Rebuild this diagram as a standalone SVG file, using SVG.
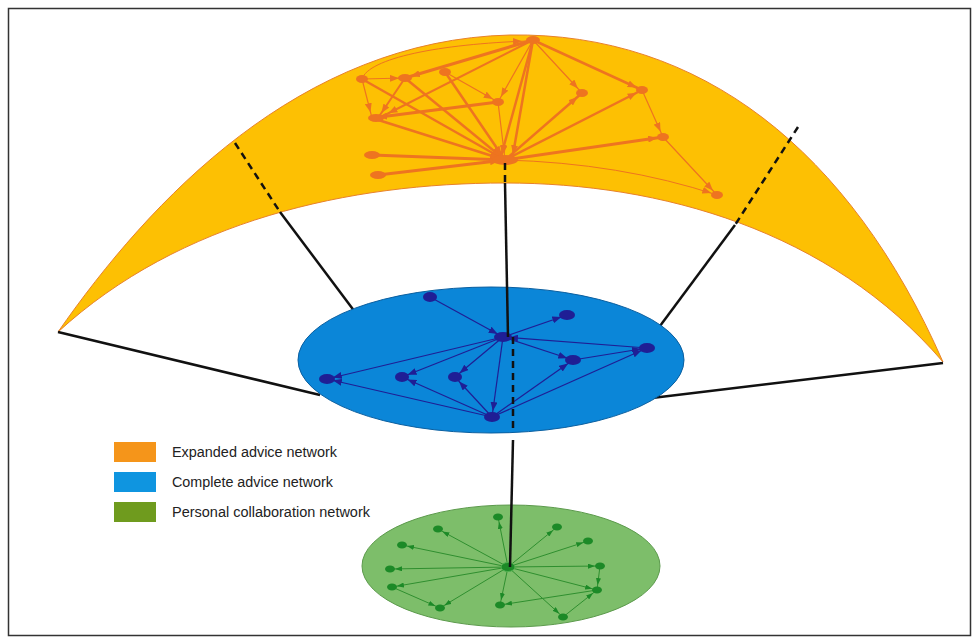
<svg xmlns="http://www.w3.org/2000/svg" width="977" height="642" viewBox="0 0 977 642">
<defs>
<style>
.oe{stroke:#EE7420;fill:none;stroke-linecap:round}
.be{stroke:#1F1E95;fill:none;stroke-width:1.2}
.ge{stroke:#2F8F2F;fill:none;stroke-width:1}
.on{fill:#EE7420}
.bn{fill:#1F1E95}
.gn{fill:#1C8A27}
.blk{stroke:#111;stroke-width:2.5;fill:none}
.dash{stroke:#111;stroke-width:2.5;fill:none;stroke-dasharray:7,5}
.lg{font-family:"Liberation Sans","DejaVu Sans",sans-serif;font-size:14px;fill:#222}
</style>
<marker id="ao" markerUnits="userSpaceOnUse" markerWidth="9" markerHeight="7" refX="15" refY="3.5" orient="auto"><path d="M0,0 L9,3.5 L0,7 z" fill="#EE7420"/></marker>
<marker id="ab" markerUnits="userSpaceOnUse" markerWidth="9" markerHeight="7" refX="15" refY="3.5" orient="auto"><path d="M0,0 L9,3.5 L0,7 z" fill="#1F1E95"/></marker>
<marker id="ag" markerUnits="userSpaceOnUse" markerWidth="7" markerHeight="5" refX="12" refY="2.5" orient="auto"><path d="M0,0 L7,2.5 L0,5 z" fill="#1C8A27"/></marker>
</defs>
<rect x="0" y="0" width="977" height="642" fill="#fff"/>
<rect x="8.5" y="8.5" width="962" height="627" fill="none" stroke="#333" stroke-width="1.5"/>

<g id="expanded-band">
<path d="M58,332 C150,200 300,40 510,35 C700,32 850,150 943,362 C830,230 660,183 505,183 C350,183 180,220 58,332 Z" fill="#FDC003" stroke="#E8812A" stroke-width="1"/>
</g>

<g id="connectors">
<path class="dash" d="M235,143 L280,212"/>
<path class="dash" d="M798,127 L735,225"/>
<path class="blk" d="M280,212 L355,312"/>
<path class="blk" d="M735,225 L660,326"/>
<path class="blk" d="M58,332 L320,395"/>
<path class="blk" d="M943,363 L652,398"/>
</g>

<g id="expanded-network">
<path class="oe" stroke-width="1" d="M362,79 C368,58 440,44 528,41" marker-end="url(#ao)"/>
<path class="oe" stroke-width="1.2" d="M362,79 L405,78" marker-end="url(#ao)"/>
<path class="oe" stroke-width="3" d="M533,40 L405,78" marker-end="url(#ao)"/>
<path class="oe" stroke-width="2" d="M533,40 L383,116" marker-end="url(#ao)"/>
<path class="oe" stroke-width="1.2" d="M362,79 L372,118" marker-end="url(#ao)"/>
<path class="oe" stroke-width="2.5" d="M362,79 L505,160" marker-end="url(#ao)"/>
<path class="oe" stroke-width="2.5" d="M405,78 L505,160" marker-end="url(#ao)"/>
<path class="oe" stroke-width="2.5" d="M445,72 L505,160" marker-end="url(#ao)"/>
<path class="oe" stroke-width="1.2" d="M445,72 L498,102" marker-end="url(#ao)"/>
<path class="oe" stroke-width="3" d="M498,102 L372,118" marker-end="url(#ao)"/>
<path class="oe" stroke-width="2" d="M405,78 L378,118" marker-end="url(#ao)"/>
<path class="oe" stroke-width="1.2" d="M498,102 L505,160" marker-end="url(#ao)"/>
<path class="oe" stroke-width="3" d="M372,155 L505,160" marker-end="url(#ao)"/>
<path class="oe" stroke-width="3" d="M378,175 L505,160" marker-end="url(#ao)"/>
<path class="oe" stroke-width="2.5" d="M372,118 L505,160" marker-end="url(#ao)"/>
<path class="oe" stroke-width="2.5" d="M533,40 L500,160" marker-end="url(#ao)"/>
<path class="oe" stroke-width="2.5" d="M533,40 L512,160" marker-end="url(#ao)"/>
<path class="oe" stroke-width="1.2" d="M533,40 L498,102" marker-end="url(#ao)"/>
<path class="oe" stroke-width="1.2" d="M533,40 L582,93" marker-end="url(#ao)"/>
<path class="oe" stroke-width="2.5" d="M533,40 L642,90" marker-end="url(#ao)"/>
<path class="oe" stroke-width="1.2" d="M642,90 L663,137" marker-end="url(#ao)"/>
<path class="oe" stroke-width="1.2" d="M663,137 L717,195" marker-end="url(#ao)"/>
<path class="oe" stroke-width="2.5" d="M505,160 L582,93" marker-end="url(#ao)"/>
<path class="oe" stroke-width="2.5" d="M505,160 L642,90" marker-end="url(#ao)"/>
<path class="oe" stroke-width="3" d="M505,160 L663,137" marker-end="url(#ao)"/>
<path class="oe" stroke-width="1" d="M505,160 Q620,163 717,195" marker-end="url(#ao)"/>
<ellipse class="on" cx="533" cy="40" rx="7" ry="4"/>
<ellipse class="on" cx="362" cy="79" rx="6" ry="4"/>
<ellipse class="on" cx="405" cy="78" rx="7" ry="4"/>
<ellipse class="on" cx="445" cy="72" rx="6" ry="4"/>
<ellipse class="on" cx="498" cy="102" rx="6" ry="4"/>
<ellipse class="on" cx="376" cy="118" rx="8" ry="4"/>
<ellipse class="on" cx="372" cy="155" rx="8" ry="4"/>
<ellipse class="on" cx="378" cy="175" rx="8" ry="4"/>
<ellipse class="on" cx="505" cy="160" rx="13" ry="5"/>
<ellipse class="on" cx="582" cy="93" rx="6" ry="4"/>
<ellipse class="on" cx="642" cy="90" rx="6" ry="4"/>
<ellipse class="on" cx="663" cy="137" rx="6" ry="4"/>
<ellipse class="on" cx="717" cy="195" rx="6" ry="4"/>
</g>

<g id="complete-network">
<ellipse cx="491" cy="360" rx="193" ry="73" fill="#0B86D8" stroke="#0A5FA0" stroke-width="1"/>
<path class="be" d="M430,297 L503,337" marker-end="url(#ab)"/>
<path class="be" d="M503,337 L567,315" marker-end="url(#ab)"/>
<path class="be" d="M503,337 L327,379" marker-end="url(#ab)"/>
<path class="be" d="M503,337 L402,377" marker-end="url(#ab)"/>
<path class="be" d="M503,337 L455,377" marker-end="url(#ab)"/>
<path class="be" d="M503,337 L492,417" marker-end="url(#ab)"/>
<path class="be" d="M647,348 L503,337" marker-end="url(#ab)"/>
<path class="be" d="M503,337 L573,360" marker-end="url(#ab)"/>
<path class="be" d="M573,360 L647,348" marker-end="url(#ab)"/>
<path class="be" d="M492,417 L327,379" marker-end="url(#ab)"/>
<path class="be" d="M492,417 L455,377" marker-end="url(#ab)"/>
<path class="be" d="M492,417 L402,377" marker-end="url(#ab)"/>
<path class="be" d="M492,417 L573,360" marker-end="url(#ab)"/>
<path class="be" d="M492,417 L647,348" marker-end="url(#ab)"/>
<ellipse class="bn" cx="430" cy="297" rx="7" ry="5"/>
<ellipse class="bn" cx="327" cy="379" rx="8" ry="5"/>
<ellipse class="bn" cx="402" cy="377" rx="7" ry="5"/>
<ellipse class="bn" cx="455" cy="377" rx="7" ry="5"/>
<ellipse class="bn" cx="492" cy="417" rx="8" ry="5"/>
<ellipse class="bn" cx="503" cy="337" rx="9" ry="5"/>
<ellipse class="bn" cx="567" cy="315" rx="8" ry="5"/>
<ellipse class="bn" cx="573" cy="360" rx="8" ry="5"/>
<ellipse class="bn" cx="647" cy="348" rx="8" ry="5"/>
</g>

<g id="collaboration-network">
<ellipse cx="511" cy="566" rx="149" ry="61" fill="#7DBE6A" stroke="#5C9A4C" stroke-width="1"/>
<path class="ge" d="M508,567 L498,517" marker-end="url(#ag)"/>
<path class="ge" d="M508,567 L438,529" marker-end="url(#ag)"/>
<path class="ge" d="M508,567 L402,545" marker-end="url(#ag)"/>
<path class="ge" d="M508,567 L390,569" marker-end="url(#ag)"/>
<path class="ge" d="M508,567 L392,587" marker-end="url(#ag)"/>
<path class="ge" d="M508,567 L440,608" marker-end="url(#ag)"/>
<path class="ge" d="M508,567 L500,605" marker-end="url(#ag)"/>
<path class="ge" d="M508,567 L557,527" marker-end="url(#ag)"/>
<path class="ge" d="M508,567 L588,541" marker-end="url(#ag)"/>
<path class="ge" d="M508,567 L600,566" marker-end="url(#ag)"/>
<path class="ge" d="M508,567 L597,590" marker-end="url(#ag)"/>
<path class="ge" d="M508,567 L563,617" marker-end="url(#ag)"/>
<path class="ge" d="M600,566 L597,590" marker-end="url(#ag)"/>
<path class="ge" d="M597,590 L500,605" marker-end="url(#ag)"/>
<path class="ge" d="M563,617 L597,590" marker-end="url(#ag)"/>
<path class="ge" d="M392,587 L440,608" marker-end="url(#ag)"/>
<ellipse class="gn" cx="498" cy="517" rx="5" ry="3.5"/>
<ellipse class="gn" cx="438" cy="529" rx="5" ry="3.5"/>
<ellipse class="gn" cx="402" cy="545" rx="5" ry="3.5"/>
<ellipse class="gn" cx="390" cy="569" rx="5" ry="3.5"/>
<ellipse class="gn" cx="392" cy="587" rx="5" ry="3.5"/>
<ellipse class="gn" cx="440" cy="608" rx="5" ry="3.5"/>
<ellipse class="gn" cx="500" cy="605" rx="5" ry="3.5"/>
<ellipse class="gn" cx="557" cy="527" rx="5" ry="3.5"/>
<ellipse class="gn" cx="588" cy="541" rx="5" ry="3.5"/>
<ellipse class="gn" cx="600" cy="566" rx="5" ry="3.5"/>
<ellipse class="gn" cx="597" cy="590" rx="5" ry="3.5"/>
<ellipse class="gn" cx="563" cy="617" rx="5" ry="3.5"/>
<ellipse cx="508" cy="567" rx="7" ry="4.5" fill="#1C8A27" stroke="#4FB04F" stroke-width="1"/>
</g>

<g id="vertical-connector">
<path class="dash" d="M505,163 L505,183"/>
<path class="blk" d="M505,183 L508,337"/>
<path class="dash" d="M513,337 L513,433"/>
<path class="blk" d="M513,440 L510,567"/>
</g>

<g id="legend">
<rect x="114" y="442" width="42" height="20" fill="#F5951A"/>
<rect x="114" y="472" width="42" height="20" fill="#0F95E0"/>
<rect x="114" y="502" width="42" height="20" fill="#6F9B1E"/>
<text class="lg" x="172" y="457" textLength="165" lengthAdjust="spacingAndGlyphs">Expanded advice network</text>
<text class="lg" x="172" y="487" textLength="161" lengthAdjust="spacingAndGlyphs">Complete advice network</text>
<text class="lg" x="172" y="517" textLength="198" lengthAdjust="spacingAndGlyphs">Personal collaboration network</text>
</g>
</svg>
